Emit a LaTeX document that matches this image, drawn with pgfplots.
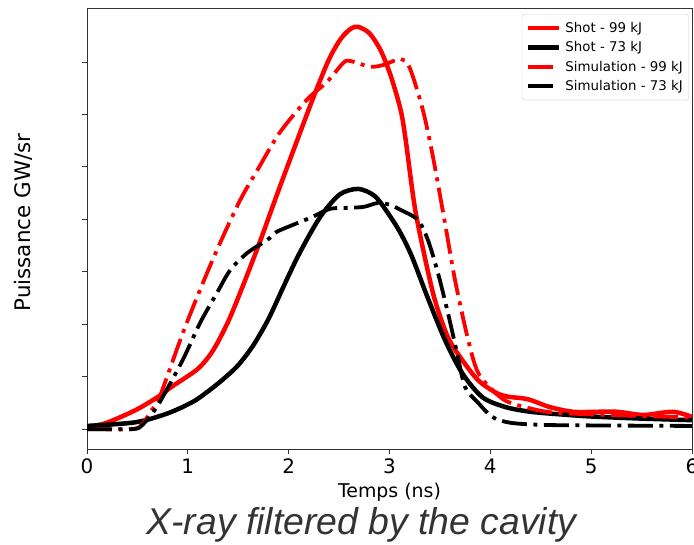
\documentclass[border=0pt]{standalone}
\usepackage{pgfplots}
\pgfplotsset{compat=1.18}
\usepackage{fontspec}
\setmainfont{DejaVu Sans}
\newfontfamily\titlefont{Liberation Sans}
\usetikzlibrary{calc}

\pgfplotstableread{
x y
0 0.05
0.18 0.11
0.48 0.36
0.70 0.61
0.85 0.82
1.10 1.15
1.25 1.50
1.40 2.05
1.55 2.75
1.72 3.60
1.88 4.45
2.05 5.33
2.24 6.30
2.40 7.05
2.52 7.45
2.62 7.64
2.69 7.67
2.80 7.55
2.91 7.23
3.01 6.75
3.11 6.09
3.16 5.52
3.25 4.24
3.35 3.28
3.45 2.46
3.58 1.75
3.72 1.32
3.88 0.93
4.05 0.70
4.17 0.62
4.37 0.57
4.59 0.42
4.82 0.33
5.05 0.33
5.26 0.33
5.52 0.27
5.81 0.33
6.00 0.23
}\shotA

\pgfplotstableread{
x y
0 0.06
0.48 0.13
0.80 0.30
1.05 0.52
1.20 0.72
1.35 0.95
1.50 1.22
1.65 1.60
1.80 2.10
1.94 2.68
2.08 3.25
2.22 3.75
2.34 4.12
2.51 4.48
2.69 4.58
2.85 4.45
2.97 4.16
3.10 3.77
3.22 3.30
3.38 2.50
3.55 1.70
3.72 1.07
3.92 0.61
4.15 0.42
4.40 0.33
4.70 0.28
5.00 0.24
5.50 0.20
6.00 0.17
}\shotB

\pgfplotstableread{
x y
0 0.0
0.45 0.0
0.55 0.10
0.64 0.36
0.72 0.61
0.95 1.83
1.15 2.79
1.32 3.55
1.52 4.37
1.69 4.94
1.91 5.65
2.18 6.28
2.38 6.62
2.54 6.98
2.61 7.02
2.81 6.91
2.95 6.95
3.11 7.06
3.20 6.89
3.33 6.09
3.43 5.20
3.55 3.93
3.65 2.84
3.78 1.70
3.88 1.07
4.05 0.69
4.20 0.50
4.56 0.33
5.00 0.28
5.50 0.25
6.00 0.22
}\simA

\pgfplotstableread{
x y
0 0.0
0.45 0.0
0.55 0.08
0.67 0.36
0.75 0.61
0.95 1.32
1.12 2.02
1.29 2.60
1.42 3.03
1.59 3.36
1.79 3.61
1.88 3.76
2.05 3.90
2.24 4.05
2.41 4.20
2.61 4.22
2.75 4.24
2.88 4.31
3.00 4.28
3.11 4.18
3.28 3.99
3.38 3.61
3.48 2.98
3.58 2.21
3.67 1.45
3.75 0.80
3.88 0.50
4.02 0.23
4.20 0.12
4.52 0.08
5.00 0.07
6.00 0.06
}\simB

\begin{document}
\begin{tikzpicture}
\begin{axis}[
  scale only axis, width=605bp, height=441bp,
  xmin=0, xmax=6, ymin=-0.38, ymax=8.03,
  xtick={0,...,6}, ytick={0,...,7}, yticklabels={},
  tick pos=left, tick align=outside, major tick length=5bp,
  every tick/.style={black!80, line width=1bp},
  axis line style={black!80, line width=1bp},
  /pgf/number format/assume math mode=true,
  xticklabel style={font=\fontsize{20}{24}\selectfont, inner sep=0pt, anchor=north, yshift=-5bp},
  xlabel={Temps (ns)},
  xlabel style={font=\fontsize{19}{23}\selectfont, at={(axis description cs:0.5,0)}, anchor=base, yshift=-48bp},
  ylabel={Puissance GW/sr},
  ylabel style={font=\fontsize{21.5}{26}\selectfont, at={([xshift=-56bp,yshift=6bp]axis description cs:0,0.5)}, anchor=base},
  legend style={at={(1,1)}, anchor=north east, xshift=-3bp, yshift=-6bp, draw=black!20, rounded corners=3bp,
    font=\fontsize{13.4}{15.5}\selectfont, inner xsep=4bp, inner ysep=6bp, row sep=3.8bp},
  legend cell align=left,
  legend image code/.code={\path (0bp,0bp) (33bp,0bp); \draw[#1] (0bp,0bp) -- (31bp,0bp);},
]
\addplot[red, line width=4.5bp, line join=round, smooth, tension=0.5] table {\shotA};
\addlegendentry{Shot - 99 kJ}
\addplot[black, line width=4.5bp, line join=round, smooth, tension=0.5] table {\shotB};
\addlegendentry{Shot - 73 kJ}
\addplot[red, line width=3.8bp, line cap=butt, dash pattern=on 25bp off 6.5bp on 4bp off 6.5bp, smooth, tension=0.5] table {\simA};
\addlegendentry{Simulation - 99 kJ}
\addplot[black, line width=3.8bp, line cap=butt, dash pattern=on 25bp off 6.5bp on 4bp off 6.5bp, smooth, tension=0.5] table {\simB};
\addlegendentry{Simulation - 73 kJ}
\coordinate (sw) at (rel axis cs:0,0);
\coordinate (ne) at (rel axis cs:1,1);
\end{axis}
\node[anchor=base, font=\titlefont\itshape\fontsize{37.5}{44}\selectfont, text=black!80, inner sep=0pt] at ($(sw)+(274.5bp,-85bp)$) {X-ray filtered by the cavity};
\pgfresetboundingbox
\path ($(sw)+(-87bp,-95bp)$) rectangle ($(ne)+(2bp,8bp)$);
\end{tikzpicture}
\end{document}
